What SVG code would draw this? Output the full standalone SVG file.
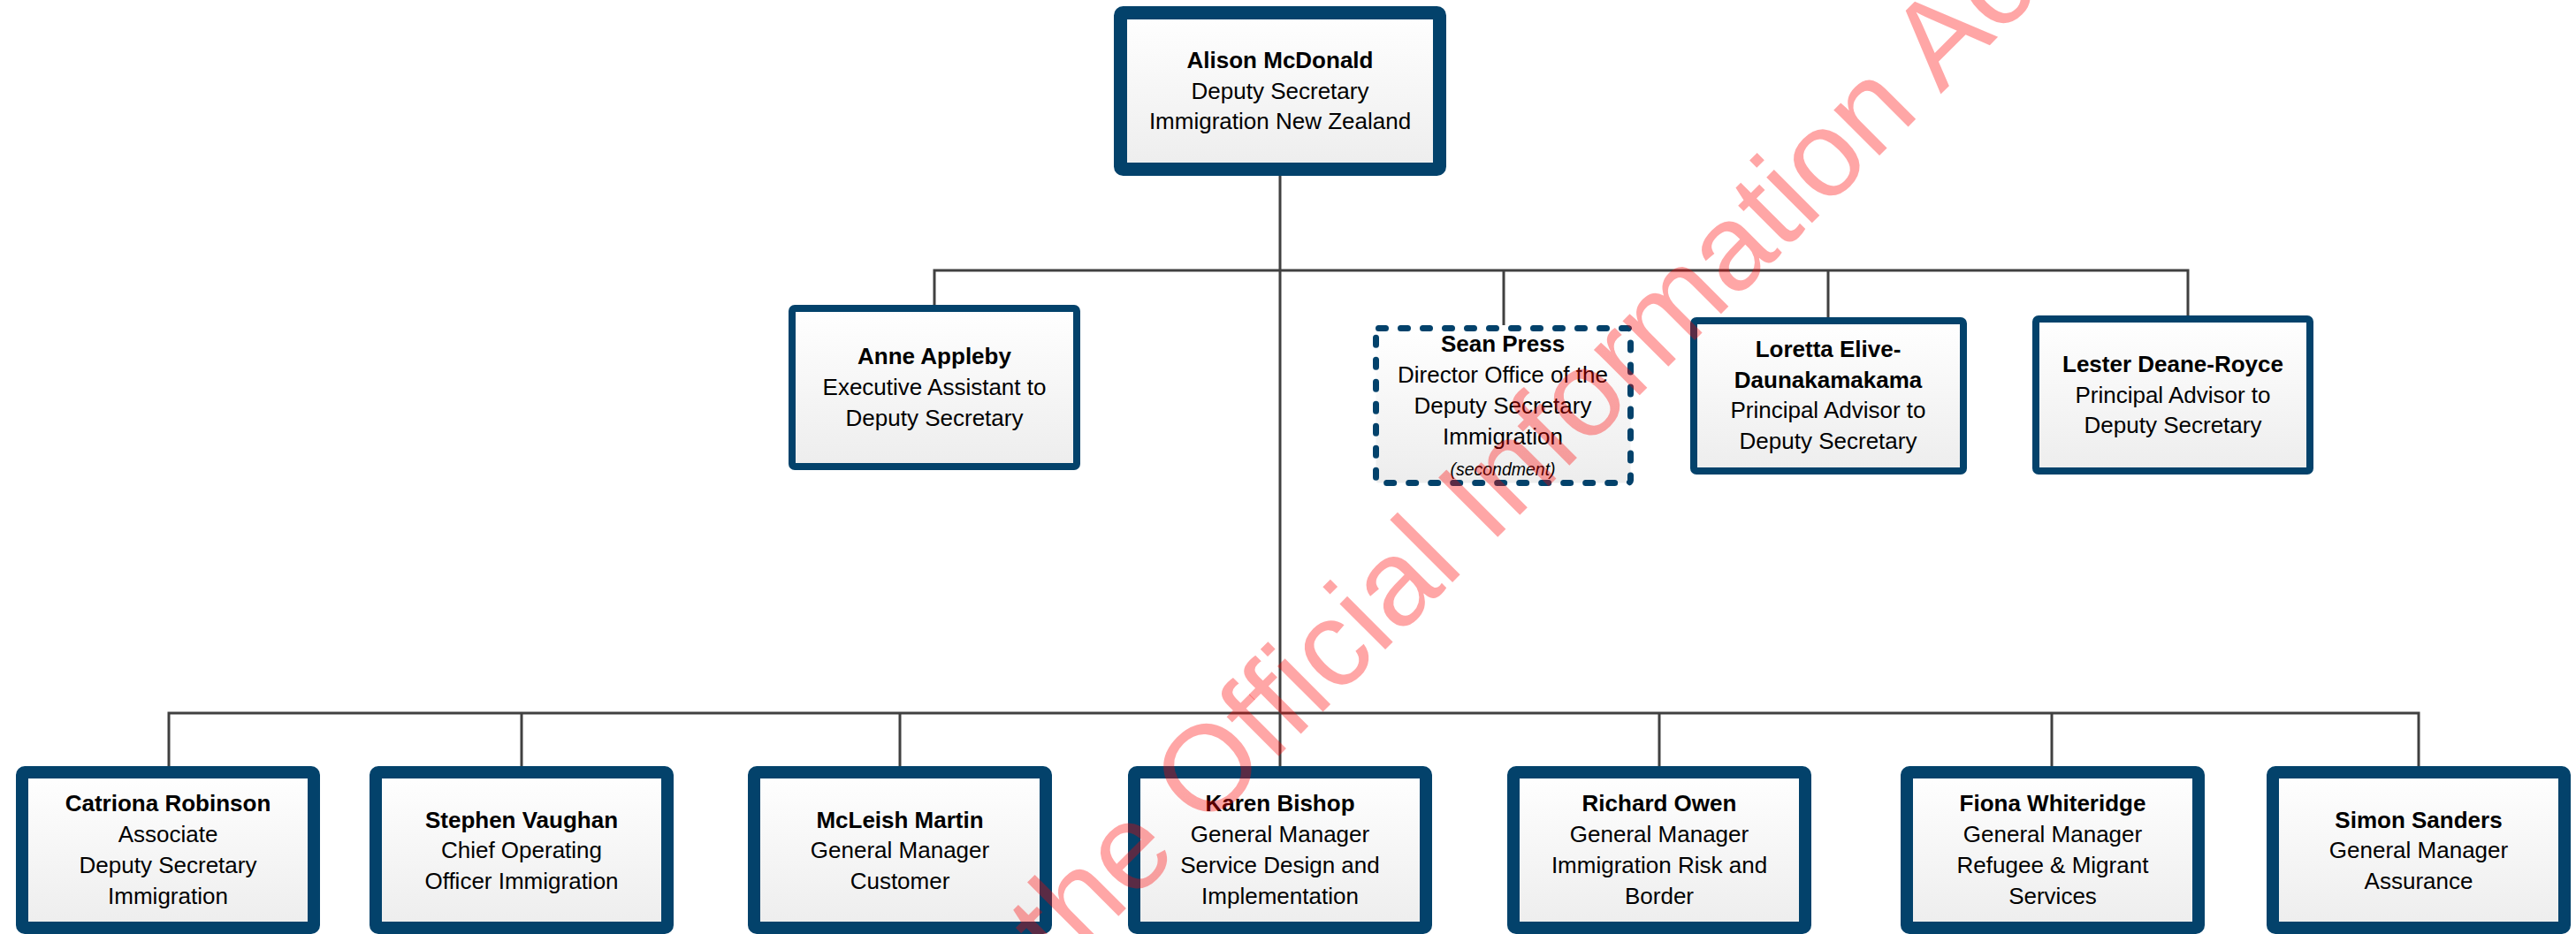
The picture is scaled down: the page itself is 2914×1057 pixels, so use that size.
<svg xmlns="http://www.w3.org/2000/svg" width="2914" height="1057" viewBox="0 0 2914 1057">
<defs>
<linearGradient id="fillg" x1="0" y1="0" x2="0" y2="1">
<stop offset="0" stop-color="#ffffff"/>
<stop offset="1" stop-color="#ededed"/>
</linearGradient>
<style>
.box{fill:url(#fillg);stroke:#03426b;stroke-linejoin:round}
.thick{stroke-width:14}
.thin{stroke-width:8}
.dash{stroke-width:7;stroke-dasharray:8 17;stroke-linecap:round}
.t{font-family:"Liberation Sans",Arial,sans-serif;font-size:26px;fill:#000;text-anchor:middle}
.b{font-weight:bold}
.i{font-style:italic;font-size:19.5px}
.conn{fill:none;stroke:#404040;stroke-width:3}
.wm{font-family:"Liberation Sans",Arial,sans-serif;font-size:138px;fill:#ff0000;fill-opacity:0.35}
</style>
</defs>
<rect width="2914" height="1057" fill="#ffffff"/>
<g id="connectors">
<path class="conn" d="M1448 199 V867"/>
<path class="conn" d="M1057 345 V306 H2475 V357"/>
<path class="conn" d="M1701 306 V368"/>
<path class="conn" d="M2068 306 V359"/>
<path class="conn" d="M191 867 V807 H2736 V867"/>
<path class="conn" d="M590 807 V867"/>
<path class="conn" d="M1018 807 V867"/>
<path class="conn" d="M1877 807 V867"/>
<path class="conn" d="M2321 807 V867"/>
</g>
<g id="alison">
<rect class="box" x="1267.5" y="14.5" width="361" height="177" rx="3" stroke-width="15"/>
<text class="t b" x="1448" y="77">Alison McDonald</text>
<text class="t" x="1448" y="112">Deputy Secretary</text>
<text class="t" x="1448" y="146">Immigration New Zealand</text>
</g>
<g id="anne">
<rect class="box thin" x="896" y="349" width="322" height="179" rx="3"/>
<text class="t b" x="1057" y="412">Anne Appleby</text>
<text class="t" x="1057" y="447">Executive Assistant to</text>
<text class="t" x="1057" y="482">Deputy Secretary</text>
</g>
<g id="sean">
<rect class="box dash" x="1556.5" y="371.5" width="288" height="175" rx="3"/>
<text class="t b" x="1700" y="398">Sean Press</text>
<text class="t" x="1700" y="433">Director Office of the</text>
<text class="t" x="1700" y="468">Deputy Secretary</text>
<text class="t" x="1700" y="503">Immigration</text>
<text class="t i" x="1700" y="538">(secondment)</text>
</g>
<g id="loretta">
<rect class="box thin" x="1916" y="363" width="305" height="170" rx="3"/>
<text class="t b" x="2068" y="404">Loretta Elive-</text>
<text class="t b" x="2068" y="439">Daunakamakama</text>
<text class="t" x="2068" y="473">Principal Advisor to</text>
<text class="t" x="2068" y="508">Deputy Secretary</text>
</g>
<g id="lester">
<rect class="box thin" x="2303" y="361" width="310" height="172" rx="3"/>
<text class="t b" x="2458" y="421">Lester Deane-Royce</text>
<text class="t" x="2458" y="456">Principal Advisor to</text>
<text class="t" x="2458" y="490">Deputy Secretary</text>
</g>
<g id="catriona">
<rect class="box thick" x="25" y="874" width="330" height="176" rx="3"/>
<text class="t b" x="190" y="918">Catriona Robinson</text>
<text class="t" x="190" y="953">Associate</text>
<text class="t" x="190" y="988">Deputy Secretary</text>
<text class="t" x="190" y="1023">Immigration</text>
</g>
<g id="stephen">
<rect class="box thick" x="425" y="874" width="330" height="176" rx="3"/>
<text class="t b" x="590" y="937">Stephen Vaughan</text>
<text class="t" x="590" y="971">Chief Operating</text>
<text class="t" x="590" y="1006">Officer Immigration</text>
</g>
<g id="mcleish">
<rect class="box thick" x="853" y="874" width="330" height="176" rx="3"/>
<text class="t b" x="1018" y="937">McLeish Martin</text>
<text class="t" x="1018" y="971">General Manager</text>
<text class="t" x="1018" y="1006">Customer</text>
</g>
<g id="karen">
<rect class="box thick" x="1283" y="874" width="330" height="176" rx="3"/>
<text class="t b" x="1448" y="918">Karen Bishop</text>
<text class="t" x="1448" y="953">General Manager</text>
<text class="t" x="1448" y="988">Service Design and</text>
<text class="t" x="1448" y="1023">Implementation</text>
</g>
<g id="richard">
<rect class="box thick" x="1712" y="874" width="330" height="176" rx="3"/>
<text class="t b" x="1877" y="918">Richard Owen</text>
<text class="t" x="1877" y="953">General Manager</text>
<text class="t" x="1877" y="988">Immigration Risk and</text>
<text class="t" x="1877" y="1023">Border</text>
</g>
<g id="fiona">
<rect class="box thick" x="2157" y="874" width="330" height="176" rx="3"/>
<text class="t b" x="2322" y="918">Fiona Whiteridge</text>
<text class="t" x="2322" y="953">General Manager</text>
<text class="t" x="2322" y="988">Refugee &amp; Migrant</text>
<text class="t" x="2322" y="1023">Services</text>
</g>
<g id="simon">
<rect class="box thick" x="2571" y="874" width="330" height="176" rx="3"/>
<text class="t b" x="2736" y="937">Simon Sanders</text>
<text class="t" x="2736" y="971">General Manager</text>
<text class="t" x="2736" y="1006">Assurance</text>
</g>
<g id="watermark">
<text class="wm" x="1199" y="1103" transform="rotate(-45 1199 1103)">the Official Information Act</text>
</g>
</svg>
